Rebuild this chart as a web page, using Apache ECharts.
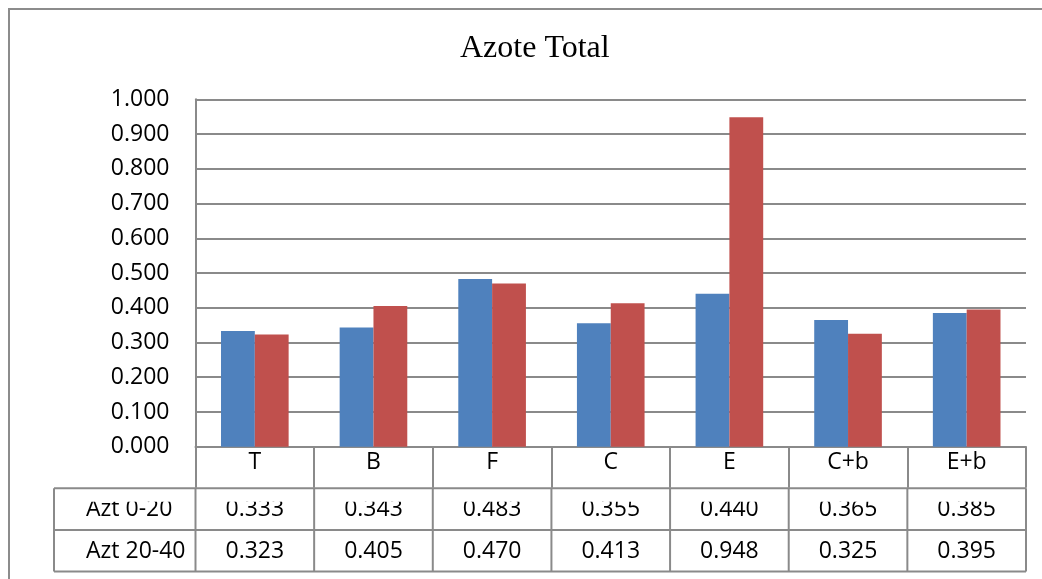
<!DOCTYPE html>
<html>
<head>
<meta charset="utf-8">
<script src="https://cdn.jsdelivr.net/npm/echarts@6/dist/echarts.min.js"></script>
<style>
  html, body { margin: 0; padding: 0; background: #fff; }
  #chart { width: 1042px; height: 579px; }
</style>
</head>
<body>
<div id="chart"></div>
<script>
// Treatments and total nitrogen per soil depth
const categories = ['T', 'B', 'F', 'C', 'E', 'C+b', 'E+b'];
const seriesNames = ['Azt 0-20', 'Azt 20-40'];
const azt0_20 = [0.333, 0.343, 0.483, 0.355, 0.440, 0.365, 0.385];
const azt20_40 = [0.323, 0.405, 0.470, 0.413, 0.948, 0.325, 0.395];
const yMin = 0, yMax = 1, yStep = 0.1;

const LINE = '#8a8a8a';
const FONT = 'Open Sans';
const FS = 23;
const chart = echarts.init(document.getElementById('chart'), null, { renderer: 'canvas' });

const gridBox = { left: 195.5, right: 16, top: 99.3, bottom: 132.3 };

chart.setOption({
  animation: false,
  backgroundColor: '#fff',
  title: {
    text: 'Azote Total',
    left: 455,
    top: 28,
    textStyle: { fontFamily: 'Liberation Serif', fontWeight: 'normal', fontSize: 32, color: '#000' }
  },
  grid: gridBox,
  xAxis: {
    type: 'category',
    data: categories,
    axisLine: { lineStyle: { color: LINE, width: 2 } },
    axisTick: { show: true, length: 41, interval: 0, lineStyle: { color: LINE, width: 2 } },
    axisLabel: { interval: 0, margin: 4, fontFamily: FONT, fontSize: FS, color: '#000' }
  },
  yAxis: {
    type: 'value',
    min: yMin, max: yMax, interval: yStep,
    axisLine: { show: true, lineStyle: { color: LINE, width: 2 } },
    axisTick: { show: false },
    splitLine: { lineStyle: { color: LINE, width: 2 } },
    axisLabel: {
      margin: 26, fontFamily: FONT, fontSize: FS, color: '#000',
      formatter: v => v.toFixed(3)
    }
  },
  series: [
    { name: seriesNames[0], type: 'bar', data: azt0_20, itemStyle: { color: '#4F81BD' },
      barGap: '0%', barCategoryGap: '43%' },
    { name: seriesNames[1], type: 'bar', data: azt20_40, itemStyle: { color: '#C0504D' },
      barGap: '0%', barCategoryGap: '43%' }
  ]
});

// Data table under the category axis, aligned with the axis bands
const c0 = chart.convertToPixel({ xAxisIndex: 0 }, 0);
const c1 = chart.convertToPixel({ xAxisIndex: 0 }, 1);
const band = c1 - c0;
const leftEdge = c0 - band / 2;
const rightEdge = leftEdge + band * categories.length;
const y0 = chart.convertToPixel({ yAxisIndex: 0 }, 0);
const rowH = 41.6;
const tableLeft = 54;
const rows = [azt0_20, azt20_40];
const rowShift = [0.5, 1];
const g = [];

// frame around the whole chart
g.push({ type: 'rect', shape: { x: 9, y: 9, width: 1100, height: 1000 },
  style: { fill: 'none', stroke: '#8c8c8c', lineWidth: 2 }, z: 10 });

rows.forEach((vals, r) => {
  const top = y0 + rowH * (r + 1);
  const mid = top + rowH / 2 + rowShift[r];
  g.push({ type: 'text', x: 86, y: mid,
    style: { text: seriesNames[r], font: FS + 'px "' + FONT + '"', fill: '#000',
      align: 'left', verticalAlign: 'middle' }, z: 5 });
  vals.forEach((v, i) => {
    g.push({ type: 'text', x: leftEdge + band * (i + 0.5), y: mid,
      style: { text: v.toFixed(3), font: FS + 'px "' + FONT + '"', fill: '#000',
        align: 'center', verticalAlign: 'middle' }, z: 5 });
  });
});
// the first value row sits low in its cell, its top edge hidden
g.push({ type: 'rect', shape: { x: tableLeft + 2, y: y0 + rowH + 1, width: rightEdge - tableLeft - 4, height: 12.5 },
  style: { fill: '#fff' }, z: 6 });
for (let i = 0; i <= categories.length; i++) {
  const x = leftEdge + band * i;
  g.push({ type: 'line', shape: { x1: x, y1: y0 + rowH, x2: x, y2: y0 + rowH * 3 },
    style: { stroke: LINE, lineWidth: 2 }, z: 8 });
}
g.push({ type: 'line', shape: { x1: tableLeft, y1: y0 + rowH, x2: tableLeft, y2: y0 + rowH * 3 },
  style: { stroke: LINE, lineWidth: 2 }, z: 8 });
for (let r = 1; r <= 3; r++) {
  const y = y0 + rowH * r;
  g.push({ type: 'line', shape: { x1: tableLeft, y1: y, x2: rightEdge, y2: y },
    style: { stroke: LINE, lineWidth: 2 }, z: 8 });
}
chart.setOption({ graphic: g });
</script>
</body>
</html>
